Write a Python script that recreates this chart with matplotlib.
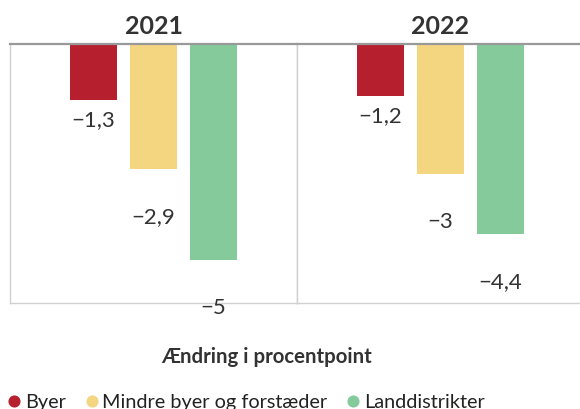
import numpy as np
from matplotlib import pyplot as plt
from matplotlib.lines import Line2D

years = ['2021', '2022']
categories = ['Byer', 'Mindre byer og forstæder', 'Landdistrikter']
values_2021 = [-1.3, -2.9, -5.0]
values_2022 = [-1.2, -3.0, -4.4]
labels_2021 = ['\u22121,3', '\u22122,9', '\u22125']
labels_2022 = ['\u22121,2', '\u22123', '\u22124,4']

colors = ['#B51F2E', '#F4D580', '#84CA9B']
label_offsets = [-14, -34, -34]  # points below bar end
text_color = '#333333'

plt.rcParams['font.family'] = ['Lato', 'DejaVu Sans']

W, H = 580, 410
fig = plt.figure(figsize=(W / 100, H / 100), dpi=100)

panel_left = [10, 297]
panel_w = 287
top_px, bottom_px = 45, 304

x = np.arange(len(categories))
for year, vals, labs, left in zip(years, [values_2021, values_2022],
                                  [labels_2021, labels_2022], panel_left):
    ax = fig.add_axes([left / W, 1 - bottom_px / H, panel_w / W, (bottom_px - top_px) / H])
    ax.bar(x, vals, width=0.78, color=colors, zorder=2)
    ax.set_xlim(1 - 2.39, 1 + 2.39)
    ax.set_ylim(-6, 0)
    ax.set_xticks([])
    ax.set_yticks([])
    for side in ['left', 'right', 'bottom']:
        ax.spines[side].set_color('#d0d0d0')
        ax.spines[side].set_linewidth(1)
    ax.spines['top'].set_color('#999999')
    ax.spines['top'].set_linewidth(1.6)
    ax.spines['top'].set_zorder(3)
    for xi, v, lab, off in zip(x, vals, labs, label_offsets):
        ax.annotate(lab, (xi, v), xytext=(0, off), textcoords='offset points',
                    ha='center', va='center', fontsize=16, color=text_color,
                    annotation_clip=False)
    ax.set_title(year, fontsize=18, fontweight='bold', color=text_color, pad=8)

fig.text(267 / W, 1 - 357 / H, '\u00c6ndring i procentpoint', ha='center', va='center',
         fontsize=14.7, fontweight='bold', color=text_color)

handles = [Line2D([], [], marker='o', linestyle='', markersize=7.7, color=c) for c in colors]
fig.legend(handles, categories, loc='center left', bbox_to_anchor=(6 / W, 1 - 403 / H),
           ncol=3, frameon=False, fontsize=14.3, handletextpad=0.15, columnspacing=0.9,
           handlelength=0.8, borderaxespad=0, borderpad=0, labelcolor='#222222')

fig.savefig('out.png', dpi=100)
